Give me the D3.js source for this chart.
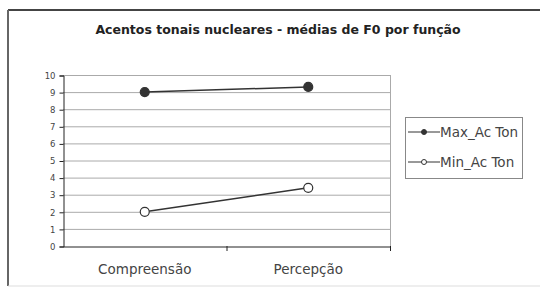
<!DOCTYPE html>
<html>
<head>
<meta charset="utf-8">
<script src="https://cdn.jsdelivr.net/npm/d3@7"></script>
<style>
  body { margin: 0; background: #fff; }
  text { font-family: "DejaVu Sans", Verdana, sans-serif; }
</style>
</head>
<body>
<div id="chart"></div>
<script>
// data
const categories = ["Compreensão", "Percepção"];
const maxValues = [9.0, 9.3];
const minValues = [2.0, 3.4];
const yTicks = [0, 1, 2, 3, 4, 5, 6, 7, 8, 9, 10];
const seriesNames = ["Max_Ac Ton", "Min_Ac Ton"];

const w = 540, h = 294;
const plot = { left: 63, right: 390, top: 75, bottom: 246 };

const svg = d3.select("#chart").append("svg")
  .attr("width", w).attr("height", h);

// outer frame
svg.append("line").attr("x1", 8).attr("x2", 540).attr("y1", 10).attr("y2", 10)
  .attr("stroke", "#444").attr("stroke-width", 2);
svg.append("line").attr("x1", 8).attr("x2", 8).attr("y1", 10).attr("y2", 286)
  .attr("stroke", "#666").attr("stroke-width", 2);
svg.append("line").attr("x1", 8).attr("x2", 540).attr("y1", 286).attr("y2", 286)
  .attr("stroke", "#ddd").attr("stroke-width", 1);

// title
svg.append("text")
  .attr("x", 278).attr("y", 34)
  .attr("text-anchor", "middle")
  .attr("font-size", 12.5).attr("font-weight", "bold")
  .attr("fill", "#222")
  .text("Acentos tonais nucleares - médias de F0 por função");

const xScale = d3.scaleBand().domain(categories).range([plot.left, plot.right]);
const yScale = d3.scaleLinear().domain([0, 10]).range([plot.bottom, plot.top]);

// gridlines
svg.append("g").selectAll("line")
  .data(yTicks.filter(d => d > 0))
  .enter().append("line")
  .attr("x1", plot.left).attr("x2", plot.right)
  .attr("y1", d => yScale(d) + 0.5).attr("y2", d => yScale(d) + 0.5)
  .attr("stroke", "#aaa").attr("stroke-width", 1);

// plot area right border
svg.append("line")
  .attr("x1", plot.right + 0.5).attr("x2", plot.right + 0.5)
  .attr("y1", plot.top).attr("y2", plot.bottom)
  .attr("stroke", "#aaa");

// y axis
const yAxis = d3.axisLeft(yScale).tickValues(yTicks).tickSize(4).tickPadding(4);
const gy = svg.append("g")
  .attr("transform", "translate(" + (plot.left + 0.5) + ",0.5)")
  .call(yAxis);
gy.select(".domain").attr("stroke", "#222");
gy.selectAll(".tick line").attr("stroke", "#222");
gy.selectAll("text").attr("font-size", 8.5).attr("fill", "#444")
  .attr("font-family", "DejaVu Sans, Verdana, sans-serif");

// x axis
const xAxis = d3.axisBottom(xScale).tickSize(0).tickPadding(18);
const gx = svg.append("g")
  .attr("transform", "translate(0," + (plot.bottom + 0.5) + ")")
  .call(xAxis);
gx.select(".domain").attr("stroke", "#222");
gx.selectAll("text").attr("font-size", 13.5).attr("fill", "#444")
  .attr("font-family", "DejaVu Sans, Verdana, sans-serif");
// category boundary ticks
svg.append("g").selectAll("line")
  .data(categories.slice(1).concat(["end"]))
  .enter().append("line")
  .attr("x1", d => (d === "end" ? plot.right : xScale(d)) + 0.5)
  .attr("x2", d => (d === "end" ? plot.right : xScale(d)) + 0.5)
  .attr("y1", plot.bottom).attr("y2", plot.bottom + 5)
  .attr("stroke", "#222");

const cx = d => xScale(d) + xScale.bandwidth() / 2;
const line = d3.line().x(d => cx(d[0])).y(d => yScale(d[1]));

const series = [
  { name: seriesNames[0], values: maxValues, fill: "#333" },
  { name: seriesNames[1], values: minValues, fill: "#fff" }
];

series.forEach(s => {
  const pts = categories.map((c, i) => [c, s.values[i]]);
  svg.append("path").datum(pts)
    .attr("d", line)
    .attr("fill", "none").attr("stroke", "#333").attr("stroke-width", 1.5);
  svg.append("g").selectAll("circle")
    .data(pts).enter().append("circle")
    .attr("cx", d => cx(d[0])).attr("cy", d => yScale(d[1]))
    .attr("r", 4.5)
    .attr("fill", s.fill).attr("stroke", "#333").attr("stroke-width", 1.2);
});

// legend
svg.append("clipPath").attr("id", "legclip")
  .append("rect").attr("x", 405).attr("y", 117).attr("width", 116).attr("height", 62);
const lg = svg.append("g");
lg.append("rect")
  .attr("x", 405.5).attr("y", 117.5).attr("width", 117).attr("height", 61)
  .attr("fill", "#fff").attr("stroke", "#888");
const items = lg.append("g").attr("clip-path", "url(#legclip)");
series.forEach((s, i) => {
  const y = 132 + i * 30;
  items.append("line").attr("x1", 408).attr("x2", 440).attr("y1", y).attr("y2", y)
    .attr("stroke", "#333").attr("stroke-width", 1);
  items.append("circle").attr("cx", 424).attr("cy", y).attr("r", 2.5)
    .attr("fill", s.fill).attr("stroke", "#333");
  items.append("text").attr("x", 440).attr("y", y + 4.5)
    .attr("font-size", 13.5).attr("fill", "#444")
    .text(s.name);
});
</script>
</body>
</html>
